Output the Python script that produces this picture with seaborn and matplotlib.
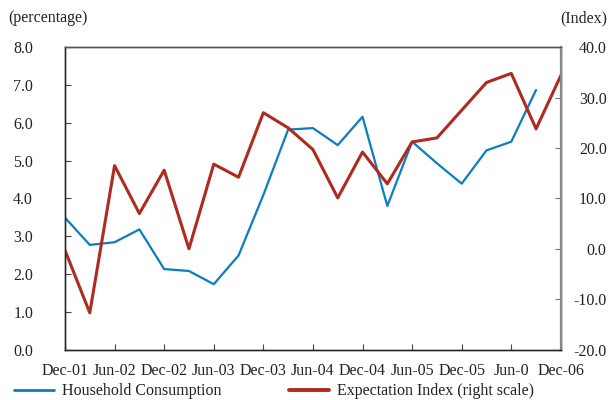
import matplotlib
matplotlib.use("Agg")
import matplotlib.pyplot as plt
import seaborn as sns
import pandas as pd
from matplotlib.lines import Line2D

# Quarterly observations, Dec-01 through Dec-06
quarters = ["Dec-01", "Mar-02", "Jun-02", "Sep-02", "Dec-02", "Mar-03", "Jun-03",
            "Sep-03", "Dec-03", "Mar-04", "Jun-04", "Sep-04", "Dec-04", "Mar-05",
            "Jun-05", "Sep-05", "Dec-05", "Mar-06", "Jun-06", "Sep-06", "Dec-06"]

# Household consumption growth (percentage), last quarter not yet available
household = [3.49, 2.77, 2.84, 3.18, 2.13, 2.08, 1.73, 2.49, 4.09, 5.82,
             5.86, 5.41, 6.16, 3.80, 5.50, 4.93, 4.39, 5.27, 5.50, 6.87]

# Consumer expectation index (right scale)
expectation = [-0.3, -12.7, 16.5, 7.0, 15.6, 0.0, 16.8, 14.2, 27.0, 24.0,
               19.7, 10.1, 19.2, 12.9, 21.2, 22.0, 27.5, 33.0, 34.8, 23.8, 34.4]

tick_labels = ["Dec-01", "Jun-02", "Dec-02", "Jun-03", "Dec-03", "Jun-04",
               "Dec-04", "Jun-05", "Dec-05", "Jun-0", "Dec-06"]

BLUE = "#0A7DC4"
RED = "#B02A1E"

sns.set_theme(style="white")
plt.rcParams["font.family"] = ["Liberation Serif", "DejaVu Serif"]

df_h = pd.DataFrame({"q": range(len(household)), "v": household})
df_e = pd.DataFrame({"q": range(len(expectation)), "v": expectation})

fig = plt.figure(figsize=(6.16, 4.0), dpi=100)
ax = fig.add_axes([0.1055, 0.126, 0.805, 0.756])
ax2 = ax.twinx()

sns.lineplot(data=df_h, x="q", y="v", ax=ax, color=BLUE, linewidth=1.6)
sns.lineplot(data=df_e, x="q", y="v", ax=ax2, color=RED, linewidth=2.2)

ax.set_xlim(0, 20)
ax.set_ylim(0, 8)
ax2.set_ylim(-20, 40)
ax.set_xticks(range(0, 21, 2))
ax.set_xticklabels(tick_labels)
ax.set_yticks(list(range(0, 9)))
ax.set_yticklabels([f"{i:.1f}" for i in range(0, 9)])
ax2.set_yticks(list(range(-20, 41, 10)))
ax2.set_yticklabels([f"{v:.1f}" for v in range(-20, 41, 10)])
ax.set_xlabel("")
ax.set_ylabel("")
ax2.set_ylabel("")

fs = 11.5
ax.tick_params(axis="y", direction="in", length=4, width=0.8, color="#444444",
               pad=23, labelsize=fs, labelcolor="#222222", left=True)
ax.tick_params(axis="x", direction="in", length=4, width=0.8, color="#444444",
               pad=10, labelsize=fs, labelcolor="#222222", bottom=True)
ax2.tick_params(axis="y", direction="in", length=4, width=0.8, color="#777777",
                pad=33, labelsize=fs, labelcolor="#222222", right=True)
for lab in ax2.get_yticklabels():
    lab.set_horizontalalignment("right")

for a in (ax, ax2):
    for s in a.spines.values():
        s.set_linewidth(1.0)
ax.spines["left"].set_color("#444444")
ax.spines["bottom"].set_color("#444444")
ax.spines["top"].set_color("#555555")
ax2.spines["right"].set_color("#888888")
ax2.spines["right"].set_linewidth(1.6)
ax2.spines["top"].set_color("#555555")

fig.text(8 / 616, 1 - 18 / 400, "(percentage)", fontsize=fs, color="#222222",
         ha="left", va="center")
fig.text(607 / 616, 1 - 18 / 400, "(Index)", fontsize=fs, color="#222222",
         ha="right", va="center")

handles = [Line2D([], [], color=BLUE, linewidth=2.0),
           Line2D([], [], color=RED, linewidth=2.8)]
fig.legend(handles, ["Household Consumption", "Expectation Index (right scale)"],
           loc="lower left", bbox_to_anchor=(0.0, -0.034), ncol=2, frameon=False,
           fontsize=fs, handlelength=2.5, handletextpad=0.5, columnspacing=4.2,
           labelcolor="#222222")

fig.savefig("out.png", dpi=100)
